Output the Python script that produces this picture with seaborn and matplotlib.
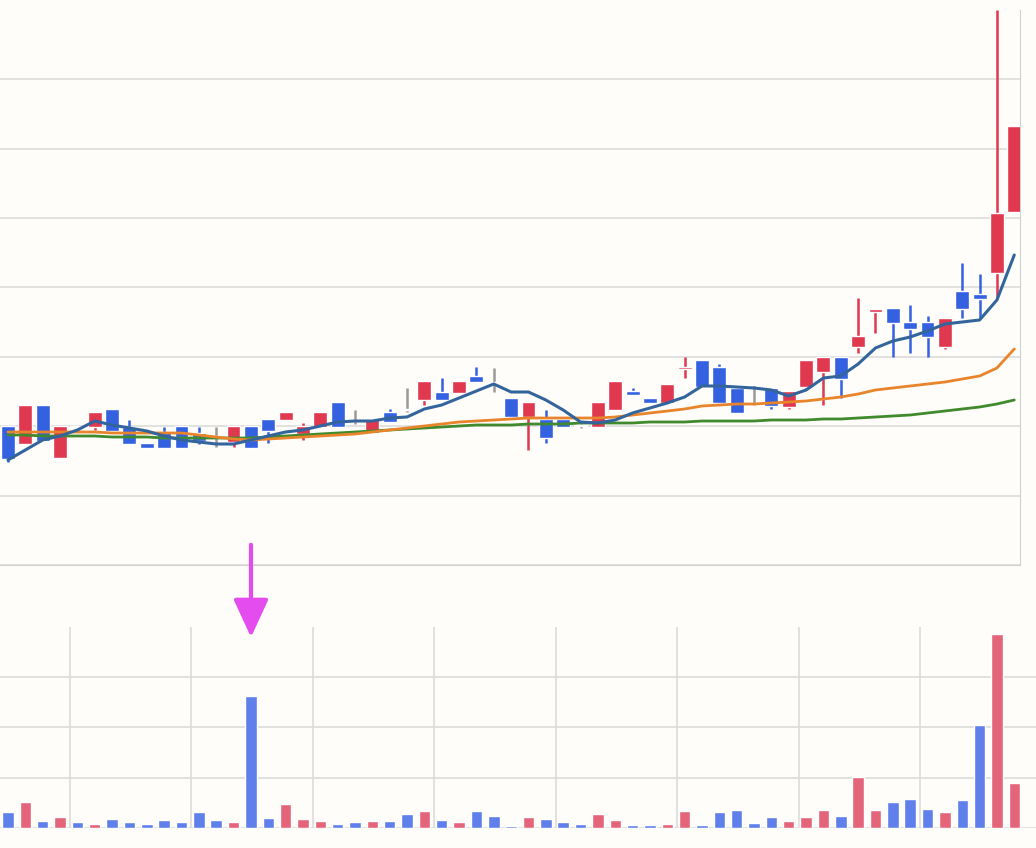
import matplotlib
matplotlib.use('Agg')
import matplotlib.pyplot as plt
from matplotlib.ticker import MultipleLocator
import seaborn as sns
import numpy as np

# candles: open, high, low, close (price units)
opens = [139,121,160,107,138,138,156,138,122,133,139,132,128,123,139,146,145,131,138,163,
         144,132,153,155,165,173,172,189,182,167,148,146,146,139,138,155,174,167,162,196,
         205,198,177,180,177,158,178,193,208,218,253,257,243,243,218,274,271,292,353]
highs = [139,160,160,139,138,153,156,145,122,138,139,138,138,139,139,146,153,142,153,163,
         155,146,156,177,184,187,184,198,197,167,163,155,146,141,163,184,177,167,181,208,
         205,201,179,180,177,174,205,208,208,267,256,257,260,249,247,302,291,555,439]
lows = [103,121,124,107,138,135,134,121,117,117,117,121,118,118,117,122,145,125,138,138,
        141,132,143,153,160,165,172,183,173,148,115,122,138,137,138,155,170,162,162,187,
        178,162,152,160,156,156,175,160,167,212,232,208,212,208,216,247,247,268,353]
closes = [106,160,124,139,138,153,134,121,117,117,117,124,128,139,117,134,153,139,153,138,
          144,146,143,155,184,165,184,183,182,148,163,127,138,139,163,184,170,162,181,198,
          178,162,152,180,159,174,205,208,186,229,256,242,236,228,247,256,266,352,439]
ma5 = [105,115,125,129,135,144,140,137,134,129,125,123,121,121,125,129,133,135,139,143,
       144,144,147,148,156,160,167,174,181,173,173,165,155,143,142,145,152,157,162,168,
       179,179,178,177,175,169,175,187,189,201,217,224,228,234,241,243,245,265,310]
ma20 = [133,133,133,133,133,133,132,132,132,132,132,130,128,126,125,126,127,128,129,130,
        131,133,135,137,139,141,143,144,145,146,147,147,147,147,147,148,150,152,154,156,
        159,160,161,161,162,163,164,166,168,171,175,177,179,181,183,186,189,197,216]
ma60 = [130,130,129,129,129,129,128,128,128,127,127,127,127,127,127,128,129,130,131,132,
        133,134,135,136,137,138,139,140,140,140,141,141,141,142,142,142,142,143,143,143,
        144,144,144,144,145,145,145,146,146,147,148,149,150,152,154,156,158,161,165]
volume = [16,26,7,11,6,4,9,6,4,8,6,16,8,6,132,10,24,9,7,4,6,7,7,14,17,8,6,17,12,2,
          11,9,6,4,14,8,3,3,4,17,3,16,18,5,11,7,11,18,12,51,18,26,29,19,16,28,103,194,45]

RED, BLUE, GRAY = '#e0384f', '#3461e0', '#9a9a9a'
VRED, VBLUE = '#e4647a', '#5f80ea'
BG = '#fffdf9'

sns.set_style('white')
fig = plt.figure(figsize=(10.36, 8.48), dpi=100, facecolor=BG)
ax = fig.add_axes([0, 1 - 565/848, 1020/1036, 555/848], facecolor=BG)
axv = fig.add_axes([0, 20/848, 1, 201/848], facecolor=BG)

idx = np.arange(len(opens))
colors = [RED if c > o else BLUE if c < o else GRAY for o, c in zip(opens, closes)]
vcolors = [VRED if c == RED else VBLUE for c in colors]

ax.vlines(idx, lows, highs, colors=colors, lw=1.8, zorder=3)
bottoms = np.minimum(opens, closes)
heights = np.maximum(np.abs(np.array(closes) - np.array(opens)), 1.5)
ax.bar(idx, heights, bottom=bottoms, width=0.8, color=colors, zorder=4)

sns.lineplot(x=idx, y=ma60, ax=ax, color='#3f8a2c', lw=2, zorder=5)
sns.lineplot(x=idx, y=ma20, ax=ax, color='#e8842c', lw=2, zorder=5)
sns.lineplot(x=idx, y=ma5, ax=ax, color='#33659c', lw=2.2, zorder=6)

ax.set_xlim(-0.46, 58.33)
ax.set_ylim(0, 555)
ax.yaxis.set_major_locator(MultipleLocator(69.4))
ax.grid(axis='y', color='#dcdcdc', lw=1.2)
ax.set_xticks([])
ax.tick_params(left=False, labelleft=False)
for s in ['top', 'left']:
    ax.spines[s].set_visible(False)
for s in ['bottom', 'right']:
    ax.spines[s].set_color('#d0d0d0')

axv.bar(idx, volume, width=0.66, color=vcolors, zorder=3)
axv.set_xlim(-0.46, 59.25)
axv.set_ylim(0, 201)
axv.yaxis.set_major_locator(MultipleLocator(50.5))
axv.set_xticks(3.57 + 7 * np.arange(8))
axv.grid(True, color='#dcdcdc', lw=1.2)
axv.tick_params(left=False, labelleft=False, bottom=False, labelbottom=False)
for s in axv.spines.values():
    s.set_visible(False)

fig.add_artist(matplotlib.patches.FancyArrowPatch(
    (251/1036, 1 - 542/848), (251/1036, 1 - 640/848), transform=fig.transFigure,
    arrowstyle='-|>,head_length=1.3,head_width=0.6', mutation_scale=18,
    color='#e54cf0', lw=3))

fig.savefig('out.png', dpi=100, facecolor=BG)
